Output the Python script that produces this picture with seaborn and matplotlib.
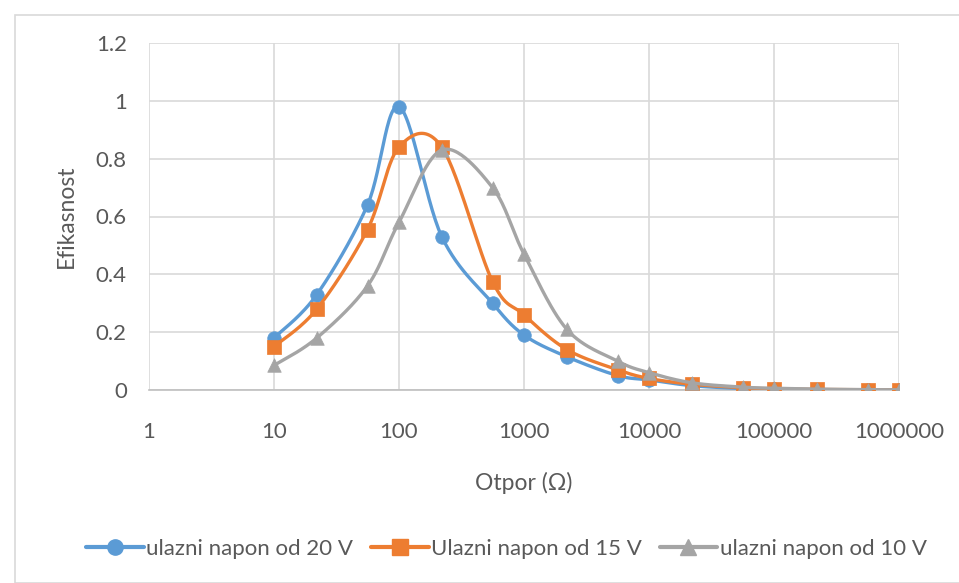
import numpy as np
import pandas as pd
import matplotlib.pyplot as plt
import seaborn as sns
from matplotlib.lines import Line2D
from matplotlib.patches import Rectangle

# Data
otpor = [10, 22, 56, 100, 220, 560, 1000, 2200, 5600, 10000, 22000,
         56000, 100000, 220000, 560000, 1000000]
ef_20v = [0.18, 0.33, 0.64, 0.98, 0.53, 0.30, 0.19, 0.115, 0.05, 0.035, 0.015,
          0.005, 0.003, 0.0015, 0.0007, 0.0004]
ef_15v = [0.15, 0.28, 0.555, 0.84, 0.84, 0.375, 0.26, 0.14, 0.07, 0.04, 0.02,
          0.008, 0.004, 0.002, 0.001, 0.0005]
ef_10v = [0.085, 0.18, 0.36, 0.58, 0.83, 0.70, 0.47, 0.21, 0.10, 0.06, 0.025,
          0.01, 0.006, 0.003, 0.0012, 0.0006]

labels = ['ulazni napon od 20 V', 'Ulazni napon od 15 V', 'ulazni napon od 10 V']
colors = ['#5B9BD5', '#ED7D31', '#A5A5A5']
markers = ['o', 's', '^']


def smooth(x, y, n=30):
    # Excel-like smoothed line: Catmull-Rom in (log x, y)
    px = np.log10(np.asarray(x, float))
    py = np.asarray(y, float)
    P = np.column_stack([px, py])
    P = np.vstack([P[0], P, P[-1]])
    out = []
    for i in range(1, len(P) - 2):
        p0, p1, p2, p3 = P[i - 1], P[i], P[i + 1], P[i + 2]
        c1 = p1 + (p2 - p0) / 6
        c2 = p2 - (p3 - p1) / 6
        t = np.linspace(0, 1, n)[:, None]
        b = ((1 - t) ** 3) * p1 + 3 * ((1 - t) ** 2) * t * c1 + 3 * (1 - t) * t ** 2 * c2 + t ** 3 * p2
        out.append(b if i == 1 else b[1:])
    out = np.vstack(out)
    return 10 ** out[:, 0], out[:, 1]


sns.set_style('white')
plt.rcParams['font.family'] = ['Lato', 'DejaVu Sans']

fig = plt.figure(figsize=(9.59, 5.83), dpi=100)
ax = fig.add_axes([149 / 959, 1 - 390 / 583, 750 / 959, 347 / 583])

# outer chart border
fig.patches.append(Rectangle((15 / 959, 0), 1, 1 - 15 / 583, transform=fig.transFigure,
                             fill=False, edgecolor='#D9D9D9', linewidth=1.2))

for k, ys in enumerate([ef_20v, ef_15v, ef_10v]):
    sx, sy = smooth(otpor, ys)
    df_line = pd.DataFrame({'x': sx, 'y': sy})
    sns.lineplot(data=df_line, x='x', y='y', ax=ax, color=colors[k], linewidth=2.4,
                 sort=False, zorder=3 + 2 * k)
    df_pts = pd.DataFrame({'x': otpor, 'y': ys})
    sns.scatterplot(data=df_pts, x='x', y='y', ax=ax, color=colors[k], marker=markers[k],
                    s=95, edgecolor=colors[k], linewidth=0.5, zorder=4 + 2 * k)

ax.set_xscale('log')
ax.set_xlim(1, 1e6)
ax.set_ylim(0, 1.2)
ax.set_xticks([1, 10, 100, 1000, 10000, 100000, 1000000])
ax.set_xticklabels(['1', '10', '100', '1000', '10000', '100000', '1000000'])
ax.minorticks_off()
ax.set_yticks([0, 0.2, 0.4, 0.6, 0.8, 1.0, 1.2])
ax.set_yticklabels(['0', '0.2', '0.4', '0.6', '0.8', '1', '1.2'])
ax.grid(True, color='#D9D9D9', linewidth=1.2)
ax.set_axisbelow(True)
for s in ['top', 'right', 'left']:
    ax.spines[s].set_visible(False)
ax.spines['bottom'].set_color('#BFBFBF')
ax.spines['bottom'].set_linewidth(1.2)
ax.tick_params(axis='both', length=0, labelsize=16, colors='#595959')
ax.tick_params(axis='x', pad=23)
ax.tick_params(axis='y', pad=16)

ax.set_xlabel('Otpor (Ω)', fontsize=16.5, color='#595959')
ax.set_ylabel('Efikasnost', fontsize=16.5, color='#595959')
ax.xaxis.set_label_coords(0.5, -0.236)
ax.yaxis.set_label_coords(-0.096, 0.5)

handles = [Line2D([0], [0], color=colors[k], marker=markers[k], markersize=11,
                  linewidth=3) for k in range(3)]
fig.legend(handles, labels, loc='center', bbox_to_anchor=(0.528, 1 - 549 / 583), ncol=3,
           frameon=False, fontsize=16, labelcolor='#595959', handlelength=2.6,
           handletextpad=0.1, columnspacing=0.8)

fig.savefig('out.png', dpi=100)
